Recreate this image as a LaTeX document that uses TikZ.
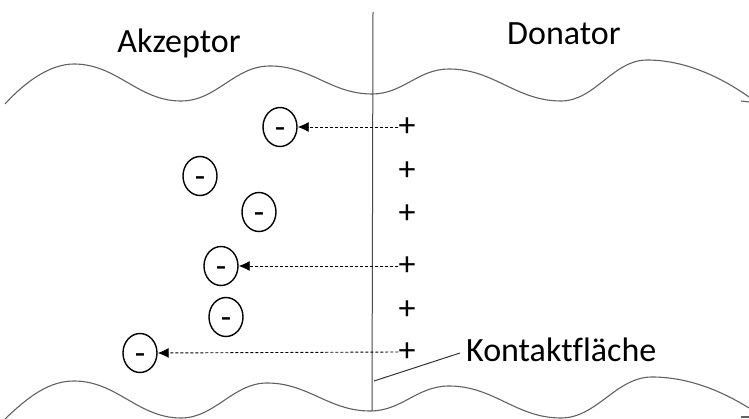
\documentclass[tikz,border=0pt]{standalone}
\usepackage{fontspec}
\setmainfont{Carlito}[Ligatures=NoCommon]
\usetikzlibrary{shapes.geometric,arrows.meta}
\begin{document}
\begin{tikzpicture}[x=1pt,y=-1pt,
  every node/.style={font=\fontsize{34}{40}\selectfont},
  wave/.style={draw=black!62,line width=1.1pt},
  sep/.style={draw=black!72,line width=1pt},
  lead/.style={draw=black!80,line width=1pt},
  neg/.style={ellipse,draw,line width=1.4pt,minimum width=34pt,minimum height=39pt,inner sep=0pt,text height=23pt,text depth=0pt},
  plus/.style={inner sep=0pt},
  push/.style={dashed,dash pattern=on 3pt off 2pt,line width=0.9pt,-{Latex[length=11pt,width=10pt]}}
]
\useasboundingbox (0,0) rectangle (749,419);
% waves
\draw[wave] (5,104) .. controls (25,82) and (50,64) .. (74,64)
  .. controls (117,64) and (138,101) .. (181,101)
  .. controls (217,101) and (234,66) .. (270,66)
  .. controls (311,66) and (331,94) .. (372,94)
  .. controls (403,94) and (418,69) .. (449,69)
  .. controls (494,69) and (516,101) .. (561,101)
  .. controls (595,101) and (613,60) .. (647,60)
  .. controls (688,60) and (725,80) .. (749,97);
\draw[wave] (741,101) -- (749,102);
\draw[wave] (5,419) .. controls (30,395) and (50,381) .. (74,381)
  .. controls (117,381) and (138,418) .. (181,418)
  .. controls (215,418) and (233,383) .. (267,383)
  .. controls (308,383) and (329,411) .. (370,411)
  .. controls (402,411) and (417,386) .. (449,386)
  .. controls (494,386) and (516,418) .. (561,418)
  .. controls (597,418) and (616,377) .. (652,377)
  .. controls (693,377) and (728,395) .. (749,408);
\draw[wave] (741,417) -- (749,417);
% separating line
\coordinate (vt) at (373,12);
\coordinate (vb) at (372,411);
\draw[sep] (vt) -- (vb);
% labels
\node[anchor=base] (akz) at (179,53) {Akzeptor};
\node[anchor=base] (don) at (564,45) {Donator};
\node[anchor=base west,inner sep=0pt] (kon) at (466,361) {Kontaktfläche};
\coordinate (k1) at (460,353);
\coordinate (k2) at (374,381);
\draw[lead] (k1) -- (k2);
% charges
\node[neg] (n1) at (280,127) {-};
\node[neg] (n2) at (200,176) {-};
\node[neg] (n3) at (259,212) {-};
\node[neg] (n4) at (221,266) {-};
\node[neg] (n5) at (226,317) {-};
\node[neg] (n6) at (140,353) {-};
\node[plus] (p1) at (407,127) {+};
\node[plus] (p2) at (407,171) {+};
\node[plus] (p3) at (407,214) {+};
\node[plus] (p4) at (407,266) {+};
\node[plus] (p5) at (407,310) {+};
\node[plus] (p6) at (407,352) {+};
% arrows
\draw[push] (p1.west) -- (n1.east);
\draw[push] (p4.west) -- (n4.east);
\draw[push] (p6.west) -- (n6.east);
\end{tikzpicture}
\end{document}
